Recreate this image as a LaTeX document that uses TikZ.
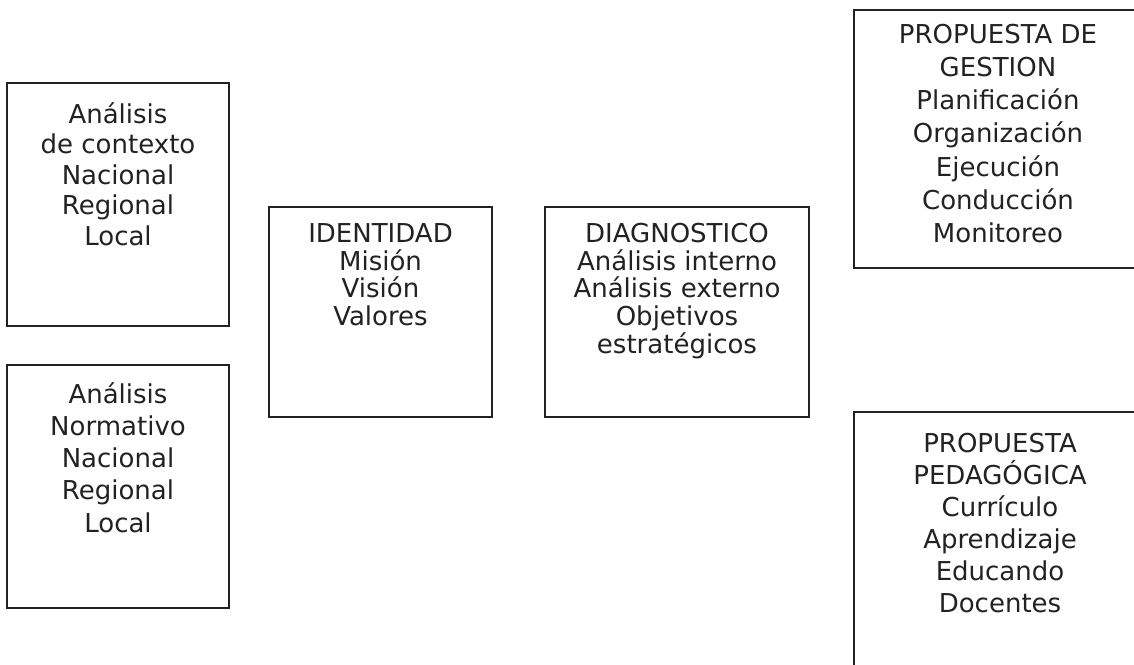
\documentclass[tikz,border=0pt]{standalone}
\usepackage{fontspec}
\setmainfont{DejaVu Sans}
\definecolor{ink}{HTML}{222222}
\begin{document}
\begin{tikzpicture}[x=1pt,y=-1pt,
  box/.style={draw=ink, line width=2.4pt, rectangle, inner sep=0pt},
  txt/.style={text=ink, align=center, inner sep=0pt, anchor=north,
    font=\fontsize{26}{#1}\selectfont},
  txt/.default=27.8]
\useasboundingbox (0,0) rectangle (1134,664);
\clip (0,0) rectangle (1134,664);
\fill[white] (0,0) rectangle (1134,664);
% boxes
\node[box, minimum width=222pt, minimum height=243pt] (b1) at (118,204.5) {};
\node[box, minimum width=222pt, minimum height=243pt] (b2) at (118,486.5) {};
\node[box, minimum width=223pt, minimum height=210pt] (b3) at (380.5,312) {};
\node[box, minimum width=264pt, minimum height=210pt] (b4) at (677,312) {};
\node[box, minimum width=292pt, minimum height=258pt] (b5) at (1000,139) {};
\node[box, minimum width=292pt, minimum height=288pt] (b6) at (1000,556) {};
% texts
\node[txt=30.5] (t1) at (118,98) {\rule{0pt}{25pt}Análisis\\de contexto\\Nacional\\Regional\\Local};
\node[txt=32.2] (t2) at (118,378) {\rule{0pt}{25pt}Análisis\\Normativo\\Nacional\\Regional\\Local};
\node[txt=27.8] (t3) at (380.5,217) {\rule{0pt}{25pt}IDENTIDAD\\Misión\\Visión\\Valores};
\node[txt=27.8] (t4) at (677,217) {\rule{0pt}{25pt}DIAGNOSTICO\\Análisis interno\\Análisis externo\\Objetivos\\estratégicos};
\node[txt=33.2] (t5) at (998,18) {\rule{0pt}{25pt}PROPUESTA DE\\GESTION\\Planificación\\Organización\\Ejecución\\Conducción\\Monitoreo};
\node[txt=32] (t6) at (1000,427) {\rule{0pt}{25pt}PROPUESTA\\PEDAGÓGICA\\Currículo\\Aprendizaje\\Educando\\Docentes};
\end{tikzpicture}
\end{document}
